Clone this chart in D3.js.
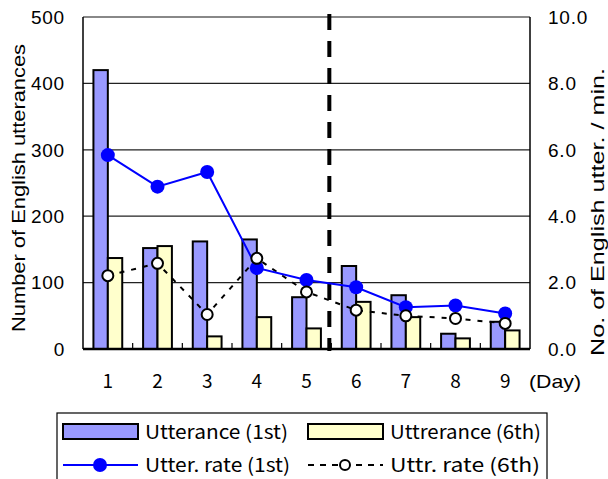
<!DOCTYPE html>
<html>
<head>
<meta charset="utf-8">
<script src="https://cdn.jsdelivr.net/npm/d3@7"></script>
<style>
  html, body { margin: 0; padding: 0; background: #fff; }
  svg { display: block; }
  text { font-family: "Liberation Sans", Arial, sans-serif; fill: #000; }
  .jp { font-family: "Noto Sans CJK JP", "Liberation Sans", sans-serif; }
</style>
</head>
<body>
<svg id="chart" width="608" height="479"></svg>
<script>
// Days of the course
const days = ["1", "2", "3", "4", "5", "6", "7", "8", "9"];
// Number of English utterances per day
const utter1st = [420, 152, 162, 165, 78, 125, 81, 23, 41];
const utter6th = [137, 155, 19, 48, 31, 71, 48, 16, 28];
// English utterances per minute
const rate1st = [5.84, 4.89, 5.33, 2.44, 2.08, 1.86, 1.26, 1.31, 1.07];
const rate6th = [2.21, 2.58, 1.04, 2.73, 1.72, 1.17, 1.00, 0.92, 0.77];
// Axis tick values
const leftTicks = [0, 100, 200, 300, 400, 500];
const rightTicks = [0, 2, 4, 6, 8, 10];

const svg = d3.select("#chart");
const m = { left: 83, right: 530, top: 17, bottom: 349 };

const x = d3.scaleBand().domain(days).range([m.left, m.right]).paddingInner(0).paddingOuter(0);
const yL = d3.scaleLinear().domain([0, 500]).range([m.bottom, m.top]);
const yR = d3.scaleLinear().domain([0, 10]).range([m.bottom, m.top]);
const barW = x.bandwidth() * 0.29;

// Gridlines
svg.append("g").selectAll("line")
  .data(leftTicks.slice(1))
  .join("line")
  .attr("x1", m.left).attr("x2", m.right)
  .attr("y1", d => yL(d)).attr("y2", d => yL(d))
  .attr("stroke", d => d === 500 ? "#888" : "#222")
  .attr("stroke-width", d => d === 500 ? 2 : 1.2);

// Bars
const bars = svg.append("g");
bars.selectAll("rect.b1").data(days).join("rect")
  .attr("x", d => x(d) + x.bandwidth() / 2 - barW)
  .attr("y", (d, i) => yL(utter1st[i]))
  .attr("width", barW)
  .attr("height", (d, i) => yL(0) - yL(utter1st[i]))
  .attr("fill", "#9999FF").attr("stroke", "#000").attr("stroke-width", 2);
bars.selectAll("rect.b6").data(days).join("rect")
  .attr("x", d => x(d) + x.bandwidth() / 2)
  .attr("y", (d, i) => yL(utter6th[i]))
  .attr("width", barW)
  .attr("height", (d, i) => yL(0) - yL(utter6th[i]))
  .attr("fill", "#FFFFCC").attr("stroke", "#000").attr("stroke-width", 2);

// Axes frame
svg.append("line").attr("x1", m.left).attr("x2", m.left).attr("y1", m.top).attr("y2", m.bottom)
  .attr("stroke", "#000").attr("stroke-width", 1.5);
svg.append("line").attr("x1", m.right).attr("x2", m.right).attr("y1", m.top).attr("y2", m.bottom)
  .attr("stroke", "#000").attr("stroke-width", 1.5);
svg.append("line").attr("x1", m.left).attr("x2", m.right).attr("y1", m.bottom).attr("y2", m.bottom)
  .attr("stroke", "#000").attr("stroke-width", 2.5);
// Category boundary ticks on the x axis
svg.append("g").selectAll("line").data(days.slice(1)).join("line")
  .attr("x1", d => x(d)).attr("x2", d => x(d))
  .attr("y1", m.bottom).attr("y2", m.bottom - 6)
  .attr("stroke", "#000").attr("stroke-width", 1.2);

// Break between the first and second half of the course
const splitX = x("6") - 2;
svg.append("line").attr("x1", splitX).attr("x2", splitX)
  .attr("y1", m.top - 3).attr("y2", m.bottom + 2)
  .attr("stroke", "#000").attr("stroke-width", 4)
  .attr("stroke-dasharray", "16,11");

// Rate lines
const cx = d => x(d) + x.bandwidth() / 2;
const line1 = d3.line().x((d, i) => cx(days[i])).y(d => yR(d));
svg.append("path").datum(rate6th).attr("d", line1)
  .attr("fill", "none").attr("stroke", "#000").attr("stroke-width", 2)
  .attr("stroke-dasharray", "5,7");
svg.append("path").datum(rate1st).attr("d", line1)
  .attr("fill", "none").attr("stroke", "#0000FF").attr("stroke-width", 2);
svg.append("g").selectAll("circle").data(rate1st).join("circle")
  .attr("cx", (d, i) => cx(days[i])).attr("cy", d => yR(d)).attr("r", 7)
  .attr("fill", "#0000FF");
svg.append("g").selectAll("circle").data(rate6th).join("circle")
  .attr("cx", (d, i) => cx(days[i])).attr("cy", d => yR(d)).attr("r", 5.5)
  .attr("fill", "#fff").attr("stroke", "#000").attr("stroke-width", 2);

// Tick labels
svg.append("g").selectAll("text").data(leftTicks).join("text")
  .attr("x", 65).attr("y", d => yL(d)).attr("dy", "0.36em")
  .attr("text-anchor", "end").attr("font-size", 19).attr("letter-spacing", 0.8)
  .text(d => d);
svg.append("g").selectAll("text").data(rightTicks).join("text")
  .attr("x", 548).attr("y", d => yR(d)).attr("dy", "0.36em")
  .attr("text-anchor", "start").attr("font-size", 19).attr("letter-spacing", 0.8)
  .text(d => d3.format(".1f")(d));
svg.append("g").selectAll("text").data(days).join("text")
  .attr("class", "jp")
  .attr("x", d => cx(d)).attr("y", 381).attr("dy", "0.36em")
  .attr("text-anchor", "middle").attr("font-size", 19)
  .text(d => d);
svg.append("text")
  .attr("x", 529).attr("y", 381).attr("dy", "0.36em")
  .attr("font-size", 19).attr("textLength", 52).attr("lengthAdjust", "spacingAndGlyphs")
  .text("(Day)");

// Axis titles
svg.append("text")
  .attr("transform", "translate(25,188) rotate(-90)")
  .attr("text-anchor", "middle").attr("font-size", 19)
  .attr("textLength", 288).attr("lengthAdjust", "spacingAndGlyphs")
  .text("Number of English utterances");
svg.append("text")
  .attr("transform", "translate(604,212) rotate(-90)")
  .attr("text-anchor", "middle").attr("font-size", 19)
  .attr("textLength", 288).attr("lengthAdjust", "spacingAndGlyphs")
  .text("No. of English utter. / min.");

// Legend
const lg = svg.append("g");
lg.append("rect").attr("x", 57).attr("y", 413).attr("width", 490).attr("height", 70)
  .attr("fill", "#fff").attr("stroke", "#000").attr("stroke-width", 1.2);
const legendItems = [
  { label: "Utterance (1st)", kind: "bar", fill: "#9999FF", x: 63, y: 432, w: 143 },
  { label: "Uttrerance (6th)", kind: "bar", fill: "#FFFFCC", x: 308, y: 432, w: 151 },
  { label: "Utter. rate (1st)", kind: "solid", x: 63, y: 465, w: 145 },
  { label: "Uttr. rate (6th)", kind: "dash", x: 308, y: 465, w: 150 }
];
legendItems.forEach(it => {
  if (it.kind === "bar") {
    lg.append("rect").attr("x", it.x).attr("y", it.y - 8).attr("width", 75).attr("height", 15)
      .attr("fill", it.fill).attr("stroke", "#000").attr("stroke-width", 2);
  } else if (it.kind === "solid") {
    lg.append("line").attr("x1", it.x).attr("x2", it.x + 75).attr("y1", it.y).attr("y2", it.y)
      .attr("stroke", "#0000FF").attr("stroke-width", 2);
    lg.append("circle").attr("cx", it.x + 37).attr("cy", it.y).attr("r", 7).attr("fill", "#0000FF");
  } else {
    lg.append("line").attr("x1", it.x).attr("x2", it.x + 75).attr("y1", it.y).attr("y2", it.y)
      .attr("stroke", "#000").attr("stroke-width", 2).attr("stroke-dasharray", "6,6");
    lg.append("circle").attr("cx", it.x + 37).attr("cy", it.y).attr("r", 5)
      .attr("fill", "#fff").attr("stroke", "#000").attr("stroke-width", 2);
  }
  lg.append("text").attr("class", "jp").attr("x", it.x + 82).attr("y", it.y).attr("dy", "0.36em")
    .attr("font-size", 19).attr("textLength", it.w).attr("lengthAdjust", "spacingAndGlyphs")
    .text(it.label);
});
</script>
</body>
</html>
